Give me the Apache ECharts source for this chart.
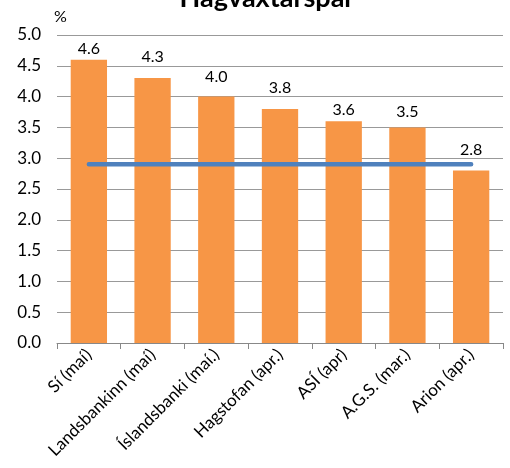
<!DOCTYPE html>
<html><head><meta charset="utf-8">
<script src="https://cdn.jsdelivr.net/npm/echarts@6/dist/echarts.min.js"></script>
<style>html,body{margin:0;padding:0;background:#fff}#c{width:510px;height:468px}</style>
</head><body><div id="c"></div>
<script>
const categories = ['Sí (maí)','Landsbankinn (maí)','Íslandsbanki (maí.)','Hagstofan (apr.)','ASÍ (apr)','A.G.S. (mar.)','Arion (apr.)'];
const forecasts = [4.6, 4.3, 4.0, 3.8, 3.6, 3.5, 2.8];
const average = [2.9, 2.9, 2.9, 2.9, 2.9, 2.9, 2.9];
const yTicks = [0, 0.5, 1, 1.5, 2, 2.5, 3, 3.5, 4, 4.5, 5];
// label lift above each bar (style only, px)
const labelLift = [3, 13, 12, 13, 3, 8, 13];

const font = 'Lato, "Open Sans", sans-serif';
const chart = echarts.init(document.getElementById('c'));
chart.setOption({
  animation: false,
  title: { text: 'Hagvaxtarspár', left: 267, textAlign: 'center', top: -15, padding: 0,
    textStyle: { fontFamily: font, fontSize: 27, fontWeight: 'bold', color: '#000' } },
  grid: { left: 57, right: 7, top: 35, bottom: 125 },
  xAxis: {
    type: 'category', data: categories,
    axisLine: { lineStyle: { color: '#888' } },
    axisTick: { show: true, length: 6, lineStyle: { color: '#888' } },
    axisLabel: { rotate: 45, fontFamily: font, fontSize: 17, color: '#000', margin: 9, interval: 0 }
  },
  yAxis: {
    type: 'value', min: yTicks[0], max: yTicks[yTicks.length-1], interval: 0.5,
    name: '%', nameGap: 10, nameTextStyle: { fontFamily: font, fontSize: 16, color: '#000', align: 'left', padding: [0,0,0,-3] },
    axisLine: { show: false },
    axisTick: { show: false },
    splitLine: { lineStyle: { color: '#999' } },
    axisLabel: { fontFamily: font, fontSize: 17, color: '#000', margin: 16,
      formatter: v => v.toFixed(1) }
  },
  series: [
    { type: 'bar', barCategoryGap: '43%',
      data: forecasts.map((v, i) => ({ value: v, label: { distance: labelLift[i] } })),
      itemStyle: { color: '#F79646' },
      label: { show: true, position: 'top', fontFamily: font, fontSize: 16, color: '#000',
        formatter: p => p.value.toFixed(1) } },
    { type: 'line', data: average, symbol: 'none', z: 5,
      lineStyle: { color: '#4F81BD', width: 4.5, cap: 'round' } }
  ]
});
</script></body></html>
